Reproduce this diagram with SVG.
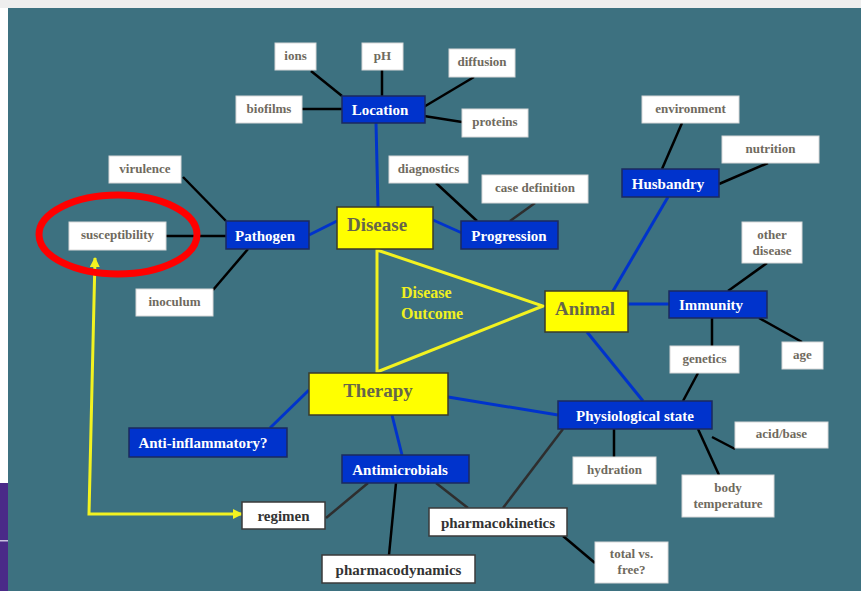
<svg xmlns="http://www.w3.org/2000/svg" width="861" height="591" viewBox="0 0 861 591">
<style>
text{font-family:"Liberation Serif","Times New Roman",serif;font-weight:bold;text-anchor:middle}
.bl{fill:#0033cc;stroke:#1b2a5e;stroke-width:1.5}
.ye{fill:#ffff00;stroke:#3a3a2a;stroke-width:1.5}
.wh{fill:#ffffff;stroke:#d8d8d8;stroke-width:1}
.wd{fill:#ffffff;stroke:#3a3a3a;stroke-width:1.5}
.tb{fill:#ffffff;font-size:15px}
.ty{fill:#66664a;font-size:19px}
.ts{fill:#6f6a5e;font-size:13px}
.td{fill:#333333;font-size:15px}
.k{stroke:#000;stroke-width:2.5;fill:none}
.g{stroke:#2e2e2e;stroke-width:2.5;fill:none}
.b{stroke:#0033cc;stroke-width:3;fill:none}
</style>
<defs>
<marker id="ah" viewBox="0 0 10 10" refX="9" refY="5" markerWidth="3.4" markerHeight="3.4" orient="auto-start-reverse" markerUnits="strokeWidth">
<path d="M0,0 L10,5 L0,10 Z" fill="#f2f220"/>
</marker>
</defs>
<rect x="0" y="0" width="861" height="591" fill="#ffffff"/>
<rect x="0" y="0" width="861" height="8" fill="#eeeeee"/>
<rect x="0" y="483" width="8" height="108" fill="#4a2a88"/>
<rect x="0" y="540" width="8" height="1.5" fill="#c8c0e0"/>
<rect x="8" y="8" width="853" height="583" fill="#3d7180"/>

<g id="connectors">
<line class="k" x1="311" y1="71" x2="342" y2="96"/>
<line class="k" x1="382" y1="70" x2="382" y2="96"/>
<line class="k" x1="474" y1="77" x2="422" y2="108"/>
<line class="k" x1="424" y1="116" x2="462" y2="122"/>
<line class="k" x1="302" y1="109" x2="342" y2="109"/>
<line class="b" x1="376" y1="123" x2="378" y2="207"/>
<line class="k" x1="436" y1="183" x2="477" y2="221"/>
<line class="g" x1="535" y1="203" x2="510" y2="221"/>
<line class="b" x1="433" y1="220" x2="462" y2="233"/>
<line class="b" x1="309" y1="235" x2="337" y2="221"/>
<line class="k" x1="183" y1="177" x2="226" y2="221"/>
<line class="k" x1="166" y1="236" x2="226" y2="236"/>
<line class="k" x1="248" y1="249" x2="213" y2="290"/>
<line class="k" x1="682" y1="123" x2="662" y2="169"/>
<line class="k" x1="768" y1="163" x2="719" y2="184"/>
<line class="b" x1="668" y1="197" x2="613" y2="291"/>
<line class="b" x1="628" y1="304" x2="669" y2="304"/>
<line class="k" x1="767" y1="263" x2="728" y2="291"/>
<line class="k" x1="712" y1="318" x2="712" y2="346"/>
<line class="k" x1="759" y1="318" x2="802" y2="342"/>
<line class="k" x1="698" y1="373" x2="683" y2="401"/>
<line class="b" x1="587" y1="332" x2="643" y2="401"/>
<line class="k" x1="614" y1="429" x2="614" y2="457"/>
<line class="k" x1="712" y1="437" x2="735" y2="449"/>
<line class="k" x1="698" y1="429" x2="719" y2="475"/>
<line class="g" x1="563" y1="429" x2="503" y2="508"/>
<line class="b" x1="448" y1="397" x2="558" y2="415"/>
<line class="b" x1="270" y1="428" x2="309" y2="390"/>
<line class="b" x1="392" y1="415" x2="402" y2="455"/>
<line class="g" x1="368" y1="483" x2="326" y2="518"/>
<line class="k" x1="396" y1="483" x2="389" y2="555"/>
<line class="g" x1="436" y1="483" x2="468" y2="508"/>
<line class="k" x1="563" y1="536" x2="595" y2="563"/>
<polygon points="377,250 543,306 377,372" fill="none" stroke="#f2f220" stroke-width="3" stroke-linejoin="miter"/>
<polyline points="242,514 89,514 95,258" fill="none" stroke="#f2f220" stroke-width="3" marker-start="url(#ah)" marker-end="url(#ah)"/>
<ellipse cx="118" cy="234.5" rx="79" ry="39.5" fill="none" stroke="#ff0000" stroke-width="7"/>
</g>

<g id="n-ions"><rect class="wh" x="275" y="43" width="41" height="27"/><text class="ts" x="295.5" y="59.5">ions</text></g>
<g id="n-ph"><rect class="wh" x="362" y="43" width="41" height="27"/><text class="ts" x="382.5" y="59.5">pH</text></g>
<g id="n-diffusion"><rect class="wh" x="449" y="49" width="66" height="28"/><text class="ts" x="482" y="66">diffusion</text></g>
<g id="n-biofilms"><rect class="wh" x="236" y="96" width="66" height="27"/><text class="ts" x="269" y="112.5">biofilms</text></g>
<g id="n-proteins"><rect class="wh" x="462" y="109" width="66" height="28"/><text class="ts" x="495" y="126">proteins</text></g>
<g id="n-location"><rect class="bl" x="342" y="96" width="83" height="27"/><text class="tb" x="380" y="115">Location</text></g>
<g id="n-diagnostics"><rect class="wh" x="389" y="156" width="79" height="27"/><text class="ts" x="428.5" y="172.5">diagnostics</text></g>
<g id="n-casedef"><rect class="wh" x="482" y="175" width="106" height="28"/><text class="ts" x="535" y="192">case definition</text></g>
<g id="n-disease"><rect class="ye" x="337" y="207" width="96" height="42"/><text class="ty" x="377" y="231">Disease</text></g>
<g id="n-progression"><rect class="bl" x="461" y="221" width="97" height="28"/><text class="tb" x="509" y="240.5">Progression</text></g>
<g id="n-pathogen"><rect class="bl" x="226" y="221" width="83" height="28"/><text class="tb" x="265" y="240.5">Pathogen</text></g>
<g id="n-virulence"><rect class="wh" x="109" y="156" width="72" height="27"/><text class="ts" x="145" y="172.5">virulence</text></g>
<g id="n-susceptibility"><rect class="wh" x="69" y="222" width="97" height="28"/><text class="ts" x="117.5" y="239">susceptibility</text></g>
<g id="n-inoculum"><rect class="wh" x="136" y="289" width="77" height="27"/><text class="ts" x="174.5" y="305.5">inoculum</text></g>
<g id="n-environment"><rect class="wh" x="642" y="96" width="97" height="27"/><text class="ts" x="690.5" y="112.5">environment</text></g>
<g id="n-nutrition"><rect class="wh" x="722" y="136" width="97" height="27"/><text class="ts" x="770.5" y="152.5">nutrition</text></g>
<g id="n-husbandry"><rect class="bl" x="622" y="169" width="97" height="28"/><text class="tb" x="668" y="188.5">Husbandry</text></g>
<g id="n-otherdisease"><rect class="wh" x="742" y="222" width="60" height="41"/><text class="ts" x="772" y="239">other</text><text class="ts" x="772" y="255">disease</text></g>
<g id="n-outcome"><text x="401" y="298" style="fill:#f0f020;font-size:16px;text-anchor:start">Disease</text><text x="401" y="319" style="fill:#f0f020;font-size:16px;text-anchor:start">Outcome</text></g>
<g id="n-animal"><rect class="ye" x="545" y="291" width="83" height="41"/><text class="ty" x="585" y="314.5">Animal</text></g>
<g id="n-immunity"><rect class="bl" x="669" y="291" width="98" height="27"/><text class="tb" x="711" y="310">Immunity</text></g>
<g id="n-genetics"><rect class="wh" x="670" y="346" width="69" height="27"/><text class="ts" x="704.5" y="362.5">genetics</text></g>
<g id="n-age"><rect class="wh" x="782" y="342" width="41" height="27"/><text class="ts" x="802.5" y="358.5">age</text></g>
<g id="n-therapy"><rect class="ye" x="309" y="373" width="139" height="42"/><text class="ty" x="378" y="397">Therapy</text></g>
<g id="n-physio"><rect class="bl" x="558" y="401" width="154" height="28"/><text class="tb" x="635" y="420.5">Physiological state</text></g>
<g id="n-acidbase"><rect class="wh" x="735" y="422" width="93" height="26"/><text class="ts" x="781.5" y="438">acid/base</text></g>
<g id="n-hydration"><rect class="wh" x="573" y="457" width="83" height="27"/><text class="ts" x="614.5" y="473.5">hydration</text></g>
<g id="n-bodytemp"><rect class="wh" x="682" y="475" width="92" height="42"/><text class="ts" x="728" y="492">body</text><text class="ts" x="728" y="507.5">temperature</text></g>
<g id="n-antiinflam"><rect class="bl" x="129" y="428" width="158" height="29"/><text class="tb" x="203" y="448">Anti-inflammatory?</text></g>
<g id="n-antimicrobials"><rect class="bl" x="342" y="455" width="127" height="28"/><text class="tb" x="400" y="474.5">Antimicrobials</text></g>
<g id="n-regimen"><rect class="wd" x="242" y="502" width="83" height="27"/><text class="td" x="283.5" y="520.5">regimen</text></g>
<g id="n-pk"><rect class="wd" x="429" y="508" width="138" height="28"/><text class="td" x="498" y="527.5">pharmacokinetics</text></g>
<g id="n-pd"><rect class="wd" x="322" y="555" width="153" height="28"/><text class="td" x="398.5" y="574.5">pharmacodynamics</text></g>
<g id="n-totalfree"><rect class="wh" x="595" y="542" width="73" height="41"/><text class="ts" x="631.5" y="558">total vs.</text><text class="ts" x="631.5" y="573.5">free?</text></g>
</svg>
